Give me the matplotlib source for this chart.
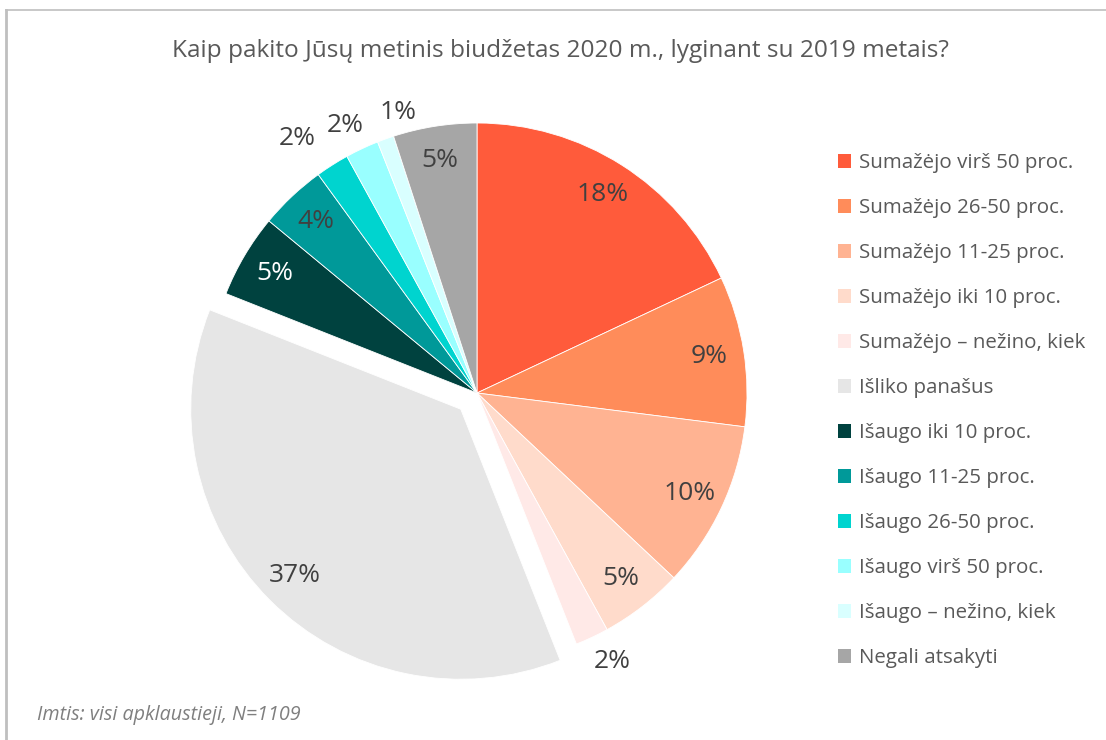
import numpy as np
import matplotlib
matplotlib.use("Agg")
import matplotlib.pyplot as plt
from matplotlib.lines import Line2D
from matplotlib.patches import Patch

plt.rcParams['font.family'] = ['Open Sans', 'DejaVu Sans']

title = "Kaip pakito Jūsų metinis biudžetas 2020 m., lyginant su 2019 metais?"
footnote = "Imtis: visi apklaustieji, N=1109"

categories = [
    "Sumažėjo virš 50 proc.",
    "Sumažėjo 26-50 proc.",
    "Sumažėjo 11-25 proc.",
    "Sumažėjo iki 10 proc.",
    "Sumažėjo – nežino, kiek",
    "Išliko panašus",
    "Išaugo iki 10 proc.",
    "Išaugo 11-25 proc.",
    "Išaugo 26-50 proc.",
    "Išaugo virš 50 proc.",
    "Išaugo – nežino, kiek",
    "Negali atsakyti",
]
shares = [18, 9, 10, 5, 2, 37, 5, 4, 2, 2, 1, 5]

colors = ["#FF5B3B", "#FF8C5A", "#FFB392", "#FFDBCB", "#FFE9E7", "#E6E6E6",
          "#00423F", "#009999", "#00D4CF", "#99FFFF", "#D9FFFF", "#A6A6A6"]
explode = [0, 0, 0, 0, 0, 0.085, 0, 0, 0, 0, 0, 0]
# radial distance and angular nudge (deg) of each percentage label
label_dist = [0.87, 0.87, 0.87, 0.87, 1.115, 0.87, 0.87, 0.87, 1.155, 1.105, 1.08, 0.87]
label_nudge = [0, 0, 0, 0, 1.6, 0, 0, 0, 2.8, 1.0, -4.1, 0]
label_colors = ["#404040"] * 6 + ["white"] + ["#404040"] * 5

W, H = 1106, 740
fig = plt.figure(figsize=(W / 100, H / 100), dpi=100)

# pie axes: centre at (477, 393) px, radius 270 px
cx, cy, R = 477, 393, 270
lim = 1.25
ax = fig.add_axes([(cx - lim * R) / W, (H - cy - lim * R) / H,
                   2 * lim * R / W, 2 * lim * R / H])
wedges, _ = ax.pie(shares, colors=colors, explode=explode, startangle=90,
                   counterclock=False, radius=1,
                   wedgeprops=dict(edgecolor="white", linewidth=0.6))
ax.set_xlim(-lim, lim)
ax.set_ylim(-lim, lim)
ax.set_aspect("equal")
ax.axis("off")

for w, v, d, n, c in zip(wedges, shares, label_dist, label_nudge, label_colors):
    ang = np.deg2rad((w.theta1 + w.theta2) / 2 + n)
    x0, y0 = w.center
    ax.text(x0 + d * np.cos(ang), y0 + d * np.sin(ang), f"{v}%",
            ha="center", va="center", fontsize=19, color=c)

# legend
handles = [Patch(facecolor=c, edgecolor="none") for c in colors]
fig.legend(handles, categories, loc="upper left",
           bbox_to_anchor=(830 / W, 1 - 145 / H), frameon=False,
           fontsize=14.75, labelcolor="#595959",
           handlelength=0.64, handleheight=0.64, handletextpad=0.36,
           labelspacing=1.22, borderaxespad=0)

fig.text(560 / W, 1 - 51 / H, title, ha="center", va="center",
         fontsize=17.6, color="#595959")
fig.text(37 / W, 1 - 715 / H, footnote, ha="left", va="center",
         fontsize=14.2, color="#7F7F7F", style="italic")

# frame lines on top and left
fig.add_artist(Line2D([6 / W, 1], [1 - 10 / H, 1 - 10 / H],
                      transform=fig.transFigure, color="#BFBFBF", lw=1.2))
fig.add_artist(Line2D([6 / W, 6 / W], [1 - 10 / H, 0],
                      transform=fig.transFigure, color="#BFBFBF", lw=2))

fig.savefig("out.png", dpi=100, facecolor="white")
